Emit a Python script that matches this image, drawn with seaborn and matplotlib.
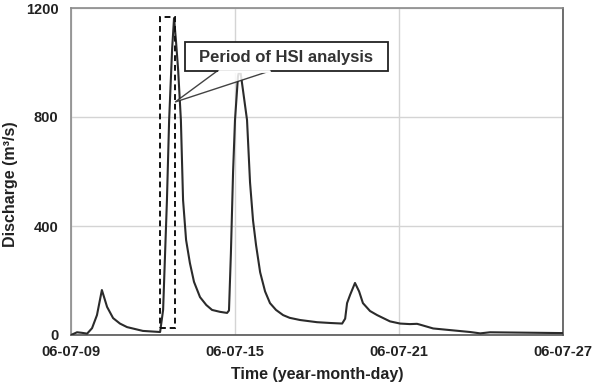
import matplotlib
matplotlib.use("Agg")
import matplotlib.pyplot as plt
import seaborn as sns
import pandas as pd
from matplotlib.patches import Rectangle, Polygon

# Days since 06-07-09
days = [0.00, 0.11, 0.22, 0.40, 0.59, 0.77, 0.95, 1.13, 1.32, 1.54, 1.79, 2.05, 2.63,
        3.26, 3.37, 3.51, 3.59, 3.70, 3.77, 3.84, 3.92, 4.02, 4.10, 4.21, 4.35, 4.50,
        4.72, 4.95, 5.16, 5.45, 5.71, 5.78, 5.85, 5.93, 6.00, 6.11, 6.18, 6.29, 6.44,
        6.55, 6.66, 6.77, 6.92, 7.10, 7.28, 7.50, 7.76, 8.00, 8.38, 9.00, 9.50, 9.92,
        10.03, 10.10, 10.21, 10.39, 10.54, 10.68, 10.94, 11.20, 11.67, 12.04, 12.40,
        12.66, 12.77, 13.25, 13.87, 14.60, 14.97, 15.33, 18.00]
discharge = [0, 5, 10, 8, 5, 25, 73, 165, 103, 62, 42, 29, 15,
             11, 92, 495, 789, 1050, 1163, 1080, 972, 789, 495, 349, 264, 195,
             139, 110, 92, 85, 81, 90, 300, 600, 789, 950, 980, 900, 789,
             560, 420, 330, 230, 160, 117, 92, 73, 63, 55, 47, 44, 42,
             60, 117, 147, 191, 160, 117, 88, 73, 50, 42, 40,
             41, 38, 24, 18, 11, 6, 10, 7]

tick_pos = [0, 6, 12, 18]
tick_labels = ["06-07-09", "06-07-15", "06-07-21", "06-07-27"]
y_ticks = [0, 400, 800, 1200]

annot_text = "Period of HSI analysis"
period_start, period_end = 3.26, 3.81
period_low, period_high = 26, 1167

df = pd.DataFrame({"day": days, "Q": discharge})

sns.set_style("white")
plt.rcParams["font.family"] = ["Liberation Sans", "DejaVu Sans"]

fig = plt.figure(figsize=(6.02, 3.84), dpi=100)
ax = fig.add_axes([71/602, 49/384, (563-71)/602, (335-8)/384])

sns.lineplot(data=df, x="day", y="Q", ax=ax, color="#2b2b2b", lw=1.5, zorder=3)

ax.set_xlim(0, 18)
ax.set_ylim(0, 1200)
ax.set_xticks(tick_pos)
ax.set_xticklabels(tick_labels, fontsize=10.5, fontweight="bold", color="#222222")
ax.set_yticks(y_ticks)
ax.set_yticklabels([str(v) for v in y_ticks], fontsize=10.5, fontweight="bold", color="#222222")
ax.tick_params(axis="x", length=0, pad=7)
ax.tick_params(axis="y", length=0, pad=9)
ax.grid(True, color="#d4d4d4", lw=1.0)
ax.set_axisbelow(True)
for s, c in [("left", "#8a8a8a"), ("top", "#8a8a8a"), ("right", "#555555"), ("bottom", "#555555")]:
    ax.spines[s].set_color(c)
    ax.spines[s].set_linewidth(1.2)

ax.set_xlabel("Time (year-month-day)", fontsize=11.5, fontweight="bold", color="#222222", va="center")
ax.xaxis.set_label_coords(0.5, -0.12)
ax.set_ylabel("Discharge (m³/s)", fontsize=11.5, fontweight="bold", color="#222222", va="center")
ax.yaxis.set_label_coords(-0.122, 0.46)

# dashed rectangle for period
ax.add_patch(Rectangle((period_start, period_low), period_end - period_start, period_high - period_low,
                       fill=False, ls=(0, (3, 2)), lw=1.4, ec="#111111", zorder=4))

# callout box with wedge
bx0, bx1, by0, by1 = 4.17, 11.6, 969, 1075
tip = (3.81, 855)
ax.add_patch(Polygon([(5.35, by0), tip, (7.28, by0)], closed=True, fc="white", ec="#222222",
                     lw=1.0, zorder=5, alpha=0.85))
ax.add_patch(Rectangle((bx0, by0), bx1 - bx0, by1 - by0, fc="white", ec="#222222", lw=1.3, zorder=6))
ax.plot([5.40, 7.23], [by0, by0], color="white", lw=2, zorder=6.5)
ax.text(7.87, 1020, annot_text, ha="center", va="center",
        fontsize=12, fontweight="bold", color="#333333", zorder=7)

fig.savefig("out.png", dpi=100)
